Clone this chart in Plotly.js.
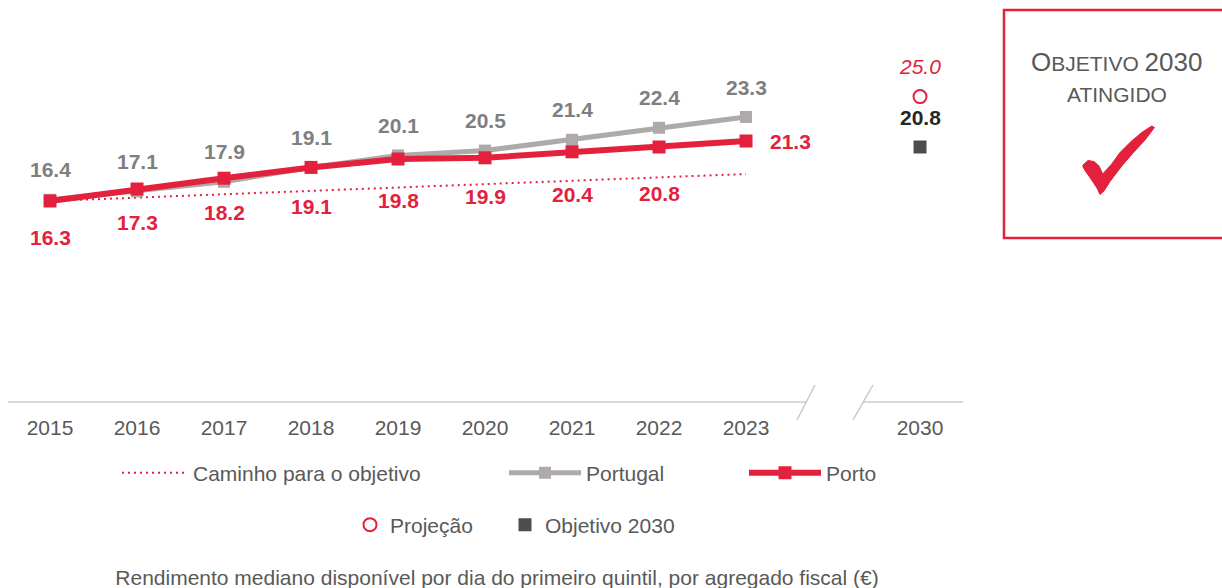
<!DOCTYPE html>
<html>
<head>
<meta charset="utf-8">
<script src="https://cdn.plot.ly/plotly-3.0.1.min.js"></script>
<style>
  html, body { margin: 0; padding: 0; background: #ffffff; }
  #chart { width: 1222px; height: 588px; }
</style>
</head>
<body>
<div id="chart"></div>
<script>
// ---------- data ----------
const years = ['2015', '2016', '2017', '2018', '2019', '2020', '2021', '2022', '2023'];
const axisCategories = ['2015', '2016', '2017', '2018', '2019', '2020', '2021', '2022', '2023', ' ', '2030'];
const portugal = [16.4, 17.1, 17.9, 19.1, 20.1, 20.5, 21.4, 22.4, 23.3];
const porto = [16.3, 17.3, 18.2, 19.1, 19.8, 19.9, 20.4, 20.8, 21.3];
const pathYears = ['2015', '2023'];
const pathValues = [16.3, 18.55];
const targetYear = ['2030'];
const projection2030 = [25.0];
const objective2030 = [20.8];

// ---------- styles ----------
const RED = '#E4213C';
const GREY = '#AEAAAA';
const GREY_LABEL = '#7F7F7F';
const DARK = '#4D4D4D';
const TEXT = '#595959';
const FONT = 'Liberation Sans, Arial, sans-serif';
// vertical offsets (px) of the Porto value labels below their points
const portoLabelShift = [-36, -33, -34, -39, -41, -39, -43, -46];

const catIndex = c => axisCategories.indexOf(c);

const traces = [
  { x: pathYears, y: pathValues, type: 'scatter', mode: 'lines', name: 'Caminho para o objetivo',
    line: { color: RED, width: 2, dash: '2px,4px' }, legend: 'legend' },
  { x: years, y: portugal, type: 'scatter', mode: 'lines+markers', name: 'Portugal',
    line: { color: GREY, width: 5 }, marker: { symbol: 'square', size: 12, color: GREY }, legend: 'legend2' },
  { x: years, y: porto, type: 'scatter', mode: 'lines+markers', name: 'Porto',
    line: { color: RED, width: 6 }, marker: { symbol: 'square', size: 13, color: RED }, legend: 'legend3' },
  { x: targetYear, y: projection2030, type: 'scatter', mode: 'markers', name: 'Projeção',
    marker: { symbol: 'circle-open', size: 13, color: RED, line: { width: 2, color: RED } }, legend: 'legend4' },
  { x: targetYear, y: objective2030, type: 'scatter', mode: 'markers', name: 'Objetivo 2030',
    marker: { symbol: 'square', size: 13, color: DARK }, legend: 'legend5' }
];

const annotations = [];
years.forEach((yr, i) => {
  annotations.push({
    x: catIndex(yr), y: portugal[i], xref: 'x', yref: 'y', showarrow: false,
    text: portugal[i].toFixed(1), yshift: 30,
    font: { family: FONT, size: 21, color: GREY_LABEL, weight: 'bold' }
  });
  const last = i === years.length - 1;
  annotations.push({
    x: catIndex(yr), y: porto[i], xref: 'x', yref: 'y', showarrow: false,
    text: porto[i].toFixed(1),
    yshift: last ? 0 : portoLabelShift[i],
    xshift: last ? 22 : 0,
    xanchor: last ? 'left' : 'center',
    font: { family: FONT, size: 21, color: RED, weight: 'bold' }
  });
});
annotations.push({
  x: catIndex(targetYear[0]), y: projection2030[0], xref: 'x', yref: 'y', showarrow: false,
  text: projection2030[0].toFixed(1), yshift: 30,
  font: { family: FONT, size: 21, color: RED, style: 'italic' }
});
annotations.push({
  x: catIndex(targetYear[0]), y: objective2030[0], xref: 'x', yref: 'y', showarrow: false,
  text: objective2030[0].toFixed(1), yshift: 30,
  font: { family: FONT, size: 21, color: '#262626', weight: 'bold' }
});
// status box text
annotations.push({
  xref: 'paper', yref: 'paper', x: 1.1612, y: 0.89, xanchor: 'center', yanchor: 'middle', showarrow: false,
  text: '<span style="font-size:26px">O</span>BJETIVO <span style="font-size:26px">2030</span>',
  font: { family: FONT, size: 21, color: TEXT }
});
annotations.push({
  xref: 'paper', yref: 'paper', x: 1.1612, y: 0.804, xanchor: 'center', yanchor: 'middle', showarrow: false,
  text: 'ATINGIDO', font: { family: FONT, size: 21, color: TEXT }
});

// pixel -> paper helpers for decorations (plot area: x 8..963, y 20..402)
const px = v => (v - 8) / 955;
const py = v => (402 - v) / 382;

// check-mark icon outline (pixel space, converted to paper)
const checkOutline = [
  [1083, 165], [1088, 160.5], [1094, 161.5], [1099, 166], [1102.7, 174],
  [1111.7, 164], [1120, 152.5], [1130, 142.5], [1141.7, 132.5], [1151.7, 126],
  [1154.5, 127.5], [1145, 140], [1133, 153], [1121, 167], [1110, 181.5],
  [1104, 191], [1100, 194.5], [1097, 188], [1091, 179], [1086, 172], [1083, 167]
];
const checkPath = checkOutline.map((p, k) => (k ? 'L' : 'M') + px(p[0]).toFixed(5) + ',' + py(p[1]).toFixed(5)).join(' ') + ' Z';

const shapes = [
  { type: 'line', xref: 'paper', yref: 'paper', x0: px(8), x1: px(806), y0: 0, y1: 0, line: { color: '#D9D9D9', width: 2 } },
  { type: 'line', xref: 'paper', yref: 'paper', x0: px(863), x1: px(963), y0: 0, y1: 0, line: { color: '#D9D9D9', width: 2 } },
  { type: 'line', xref: 'paper', yref: 'paper', x0: px(797), y0: py(420), x1: px(815), y1: py(385), line: { color: '#C8C8C8', width: 1.5 } },
  { type: 'line', xref: 'paper', yref: 'paper', x0: px(853), y0: py(420), x1: px(873), y1: py(385), line: { color: '#C8C8C8', width: 1.5 } },
  { type: 'rect', xref: 'paper', yref: 'paper', x0: px(1004), x1: px(1235), y0: py(238), y1: py(10), line: { color: RED, width: 2.5 }, fillcolor: 'rgba(0,0,0,0)' },
  { type: 'path', xref: 'paper', yref: 'paper', path: checkPath, fillcolor: RED, line: { color: RED, width: 1 } }
];

const legendBase = { orientation: 'h', yanchor: 'middle', xanchor: 'left', bgcolor: 'rgba(0,0,0,0)', borderwidth: 0,
  font: { family: FONT, size: 21, color: TEXT } };

const layout = {
  width: 1222, height: 588,
  margin: { l: 8, r: 259, t: 20, b: 186 },
  paper_bgcolor: '#ffffff', plot_bgcolor: '#ffffff',
  font: { family: FONT, size: 21, color: TEXT },
  showlegend: true,
  title: {
    text: 'Rendimento mediano disponível por dia do primeiro quintil, por agregado fiscal (€)',
    xref: 'container', yref: 'container', x: 497 / 1222, xanchor: 'center',
    y: 1 - 578 / 588, yanchor: 'middle', font: { family: FONT, size: 21, color: TEXT }
  },
  xaxis: { type: 'category', categoryorder: 'array', categoryarray: axisCategories,
    range: [-0.483, 10.494], showgrid: false, zeroline: false, showline: false,
    ticks: '', ticklabelstandoff: 11, tickfont: { family: FONT, size: 21, color: TEXT }, fixedrange: true },
  yaxis: { range: [-0.45, 31.383], showgrid: false, zeroline: false, showline: false,
    showticklabels: false, ticks: '', fixedrange: true },
  legend:  Object.assign({}, legendBase, { x: px(117), y: py(473), itemwidth: 66 }),
  legend2: Object.assign({}, legendBase, { x: px(504), y: py(473), itemwidth: 72 }),
  legend3: Object.assign({}, legendBase, { x: px(744), y: py(473), itemwidth: 72 }),
  legend4: Object.assign({}, legendBase, { x: px(350), y: py(525), itemwidth: 30 }),
  legend5: Object.assign({}, legendBase, { x: px(505), y: py(525), itemwidth: 30 }),
  annotations: annotations, shapes: shapes, hovermode: false
};

Plotly.newPlot('chart', traces, layout, { displayModeBar: false, staticPlot: true });
</script>
</body>
</html>
